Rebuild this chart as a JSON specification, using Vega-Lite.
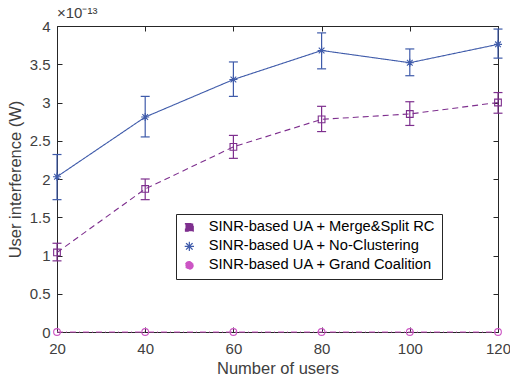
{
  "$schema": "https://vega.github.io/schema/vega-lite/v6.json",
  "autosize": {"type": "none"},
  "padding": {"left": 57, "top": 26, "right": 12, "bottom": 49},
  "width": 441,
  "height": 306,
  "background": "white",
  "title": {"text": "×10⁻¹³", "anchor": "start", "frame": "group", "fontSize": 15, "fontWeight": "normal", "color": "#404040", "font": "Liberation Sans", "offset": -2},
  "config": {
    "font": "Liberation Sans",
    "view": {"stroke": "#262626", "strokeWidth": 1},
    "axis": {"grid": false, "domain": false, "offset": -5, "tickSize": 5, "tickColor": "#262626", "labelColor": "#404040", "titleColor": "#404040", "labelFontSize": 15, "titleFontSize": 16.5, "titleFontWeight": "normal", "labelFont": "Liberation Sans", "titleFont": "Liberation Sans", "labelFlush": false},
    "legend": {"orient": "none", "legendX": 119, "legendY": 188, "strokeColor": "#262626", "fillColor": "white", "padding": 6, "labelFontSize": 14.7, "labelColor": "#000000", "labelFont": "Liberation Sans", "rowPadding": 3, "symbolSize": 60, "labelOffset": 12, "symbolStrokeWidth": 1.2, "labelLimit": 400}
  },
  "data": {"values": [
    {"s": "SINR-based UA + Merge&Split RC", "x": 20, "y": 1.04, "lo": 0.93, "hi": 1.16},
    {"s": "SINR-based UA + Merge&Split RC", "x": 40, "y": 1.87, "lo": 1.73, "hi": 2.0},
    {"s": "SINR-based UA + Merge&Split RC", "x": 60, "y": 2.42, "lo": 2.27, "hi": 2.57},
    {"s": "SINR-based UA + Merge&Split RC", "x": 80, "y": 2.78, "lo": 2.62, "hi": 2.95},
    {"s": "SINR-based UA + Merge&Split RC", "x": 100, "y": 2.85, "lo": 2.7, "hi": 3.01},
    {"s": "SINR-based UA + Merge&Split RC", "x": 120, "y": 3.0, "lo": 2.86, "hi": 3.13},
    {"s": "SINR-based UA + No-Clustering", "x": 20, "y": 2.03, "lo": 1.73, "hi": 2.32},
    {"s": "SINR-based UA + No-Clustering", "x": 40, "y": 2.81, "lo": 2.55, "hi": 3.08},
    {"s": "SINR-based UA + No-Clustering", "x": 60, "y": 3.3, "lo": 3.08, "hi": 3.53},
    {"s": "SINR-based UA + No-Clustering", "x": 80, "y": 3.68, "lo": 3.44, "hi": 3.91},
    {"s": "SINR-based UA + No-Clustering", "x": 100, "y": 3.52, "lo": 3.35, "hi": 3.7},
    {"s": "SINR-based UA + No-Clustering", "x": 120, "y": 3.76, "lo": 3.58, "hi": 3.96},
    {"s": "SINR-based UA + Grand Coalition", "x": 20, "y": 0, "lo": null, "hi": null},
    {"s": "SINR-based UA + Grand Coalition", "x": 40, "y": 0, "lo": null, "hi": null},
    {"s": "SINR-based UA + Grand Coalition", "x": 60, "y": 0, "lo": null, "hi": null},
    {"s": "SINR-based UA + Grand Coalition", "x": 80, "y": 0, "lo": null, "hi": null},
    {"s": "SINR-based UA + Grand Coalition", "x": 100, "y": 0, "lo": null, "hi": null},
    {"s": "SINR-based UA + Grand Coalition", "x": 120, "y": 0, "lo": null, "hi": null}
  ]},
  "layer": [
    {
      "mark": {"type": "line", "strokeWidth": 1.1},
      "encoding": {
        "x": {"field": "x", "type": "quantitative", "scale": {"domain": [20, 120], "nice": false}, "title": "Number of users",
          "axis": {"values": [20, 40, 60, 80, 100, 120], "labelPadding": 9, "titlePadding": 4}},
        "y": {"field": "y", "type": "quantitative", "scale": {"domain": [0, 4], "nice": false}, "title": "User interference (W)",
          "axis": {"values": [0, 0.5, 1, 1.5, 2, 2.5, 3, 3.5, 4], "format": ".1~f", "labelPadding": 7, "titlePadding": 6}},
        "color": {"field": "s", "type": "nominal", "title": null,
          "scale": {"domain": ["SINR-based UA + Merge&Split RC", "SINR-based UA + No-Clustering", "SINR-based UA + Grand Coalition"], "range": ["#7E2F8E", "#3F5BAA", "#CC55C4"]},
          "legend": {"encode": {"symbols": {"update": {"fill": {"value": "transparent"}, "strokeDash": {"value": []}}}}}},
        "strokeDash": {"field": "s", "type": "nominal", "title": null,
          "scale": {"domain": ["SINR-based UA + Merge&Split RC", "SINR-based UA + No-Clustering", "SINR-based UA + Grand Coalition"], "range": [[6, 4], [1, 0], [6, 3, 1, 3]]},
          "legend": {"encode": {"symbols": {"update": {"fill": {"value": "transparent"}, "strokeDash": {"value": []}}}}}}
      }
    },
    {
      "transform": [{"filter": "datum.lo != null"}],
      "mark": {"type": "rule", "strokeWidth": 1.2},
      "encoding": {
        "x": {"field": "x", "type": "quantitative", "axis": null},
        "y": {"field": "lo", "type": "quantitative", "axis": null, "title": null},
        "y2": {"field": "hi"},
        "color": {"field": "s", "type": "nominal", "title": null}
      }
    },
    {
      "transform": [{"filter": "datum.lo != null"}],
      "mark": {"type": "tick", "orient": "horizontal", "size": 9, "thickness": 1.2, "opacity": 1},
      "encoding": {
        "x": {"field": "x", "type": "quantitative", "axis": null},
        "y": {"field": "lo", "type": "quantitative", "axis": null, "title": null},
        "color": {"field": "s", "type": "nominal", "title": null}
      }
    },
    {
      "transform": [{"filter": "datum.lo != null"}],
      "mark": {"type": "tick", "orient": "horizontal", "size": 9, "thickness": 1.2, "opacity": 1},
      "encoding": {
        "x": {"field": "x", "type": "quantitative", "axis": null},
        "y": {"field": "hi", "type": "quantitative", "axis": null, "title": null},
        "color": {"field": "s", "type": "nominal", "title": null}
      }
    },
    {
      "mark": {"type": "point", "filled": false, "size": 45, "strokeWidth": 1.1, "opacity": 1},
      "encoding": {
        "x": {"field": "x", "type": "quantitative", "axis": null},
        "y": {"field": "y", "type": "quantitative", "axis": null},
        "color": {"field": "s", "type": "nominal", "title": null},
        "shape": {"field": "s", "type": "nominal", "title": null,
          "scale": {"domain": ["SINR-based UA + Merge&Split RC", "SINR-based UA + No-Clustering", "SINR-based UA + Grand Coalition"],
            "range": ["square", "M-1.2,0L1.2,0M0,-1.2L0,1.2M-0.85,-0.85L0.85,0.85M-0.85,0.85L0.85,-0.85", "circle"]},
          "legend": {"encode": {"symbols": {"update": {"fill": {"value": "transparent"}, "strokeDash": {"value": []}}}}}}
      }
    },
    {
      "mark": {"type": "point", "opacity": 0},
      "encoding": {
        "x": {"field": "x", "type": "quantitative", "axis": {"orient": "top", "values": [20, 40, 60, 80, 100, 120], "labels": false, "title": null}},
        "y": {"field": "y", "type": "quantitative", "axis": {"orient": "right", "values": [0, 0.5, 1, 1.5, 2, 2.5, 3, 3.5, 4], "labels": false, "title": null}}
      }
    }
  ],
  "resolve": {"scale": {"x": "shared", "y": "shared"}, "axis": {"x": "independent", "y": "independent"}}
}
